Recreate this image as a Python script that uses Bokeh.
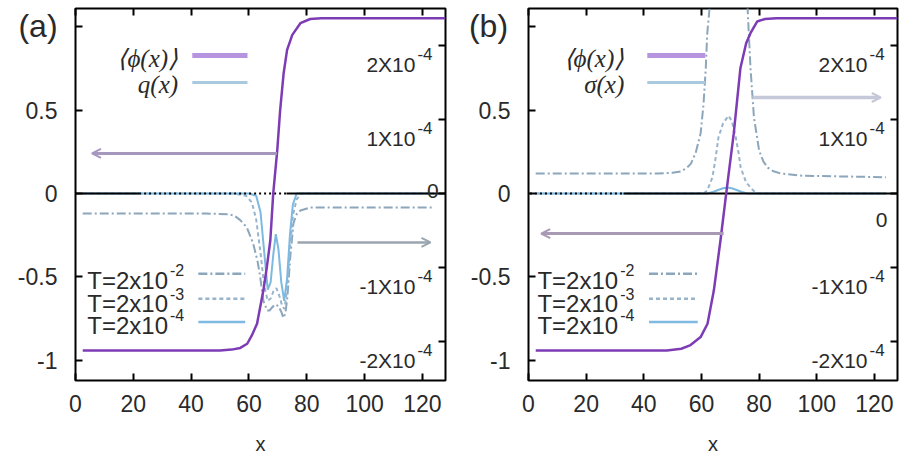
from bokeh.plotting import figure
from bokeh.layouts import row
from bokeh.models import Range1d, LinearAxis, FixedTicker, Arrow, OpenHead, ColumnDataSource, GridBox
from bokeh.embed import file_html
from bokeh.resources import INLINE
from bokeh.core.properties import value

# ---------------- data ----------------
x_ticks = [0, 20, 40, 60, 80, 100, 120]
y_ticks = [-1, -0.5, 0, 0.5, 1]
y_tick_text = {-1: "-1", -0.5: "-0.5", 0: "0", 0.5: "0.5", 1: ""}
q_ticks = [-2, -1, 1, 2]                  # right axis, units of 1e-4
q_tick_base = ["-2X10", "-1X10", "1X10", "2X10"]
q_tick_exp = ["-4", "-4", "-4", "-4"]
T_labels = ["T=2x10", "T=2x10", "T=2x10"]
T_exps = ["-2", "-3", "-4"]
panel_tags = ["(a)", "(b)"]
x_label = "x"

# panel (a): <phi(x)>
phi_a_x = [2.5, 50, 54, 57, 59.4, 61, 62.8, 65, 66.2, 67.4, 68.4, 69.8, 70.8, 72, 73.2, 75, 77.8, 81.2, 85, 128]
phi_a_y = [-0.94, -0.94, -0.935, -0.925, -0.9, -0.85, -0.78, -0.58, -0.44, -0.28, 0.0, 0.26, 0.5, 0.72, 0.86, 0.95, 1.02, 1.045, 1.05, 1.05]
# panel (a): q(x), units of 1e-4
qa_T2_x = [2.5, 45, 53, 55, 57, 59.3, 61.5, 63, 63.9, 65, 66.3, 67.2, 68, 69, 70.2, 71.2, 71.9, 72.6, 73.3, 74.3, 75.4, 76.5, 77.8, 81.2, 90, 124]
qa_T2_y = [-0.27, -0.27, -0.28, -0.3, -0.36, -0.46, -0.68, -0.92, -1.13, -1.45, -1.58, -1.58, -1.54, -1.5, -1.52, -1.6, -1.68, -1.62, -1.4, -0.86, -0.4, -0.28, -0.23, -0.19, -0.19, -0.19]
qa_T3_x = [2.5, 55, 59, 61, 62.5, 64, 65.3, 66.5, 67.5, 68.5, 69.5, 70.5, 71.5, 72.3, 73.2, 74.2, 75.2, 76.5, 78, 124]
qa_T3_y = [0, 0, -0.03, -0.12, -0.35, -0.8, -1.25, -1.45, -1.42, -1.32, -1.28, -1.38, -1.52, -1.56, -1.3, -0.75, -0.3, -0.08, 0, 0]
qa_T4_x = [2.5, 60, 62.5, 64, 65.3, 66.5, 67.5, 68.5, 69.3, 70.2, 71.2, 72.2, 73.2, 74.2, 75.2, 76.5, 124]
qa_T4_y = [0, 0, -0.03, -0.25, -0.8, -1.3, -1.2, -0.8, -0.55, -0.75, -1.2, -1.45, -1.15, -0.55, -0.15, 0, 0]

# panel (b): <phi(x)>
phi_b_x = [2.5, 48, 53, 56, 59.7, 62.1, 64.3, 66.6, 68.3, 69.3, 71.2, 73.5, 75.5, 77, 79.3, 82, 86, 128]
phi_b_y = [-0.94, -0.94, -0.93, -0.91, -0.86, -0.78, -0.58, -0.28, -0.04, 0.1, 0.36, 0.75, 0.9, 0.96, 1.03, 1.045, 1.05, 1.05]
# panel (b): sigma(x), units of 1e-4
sb_T2_x = [2.5, 45, 50, 53, 55, 56.3, 58, 59.7, 60.7, 61.5, 62, 62.8, 63.3, 66, 69.5, 73, 75.5, 76, 77, 78.2, 80, 81.5, 83, 85, 87.5, 95, 124]
sb_T2_y = [0.27, 0.27, 0.28, 0.3, 0.35, 0.4, 0.55, 0.81, 1.2, 1.7, 2.16, 2.5, 2.8, 3.5, 3.8, 3.5, 2.8, 2.5, 1.7, 1.03, 0.58, 0.43, 0.35, 0.3, 0.27, 0.24, 0.22]
sb_T3_x = [2.5, 58, 61, 62, 63.8, 64.8, 65.9, 67.5, 69.4, 70.5, 71.8, 72.9, 73.6, 75.5, 78, 80, 124]
sb_T3_y = [0, 0, 0.01, 0.04, 0.22, 0.45, 0.76, 0.95, 1.05, 0.98, 0.78, 0.54, 0.35, 0.15, 0.04, 0, 0]
sb_T4_x = [2.5, 62, 64, 66, 67.5, 69, 70.5, 72, 74, 76, 124]
sb_T4_y = [0, 0, 0.02, 0.05, 0.07, 0.08, 0.07, 0.05, 0.02, 0, 0]

# ---------------- style ----------------
X_RANGE = (0, 128)
Y_RANGE = (-1.12, 1.108)
Q_RANGE = (-2.527, 2.5)
TXT = "#2a2a2a"
SANS = "Liberation Sans"
PURPLE = "#7d3cb5"
C_T2, C_T3, C_T4 = "#8ca6bb", "#98b4cb", "#7db9e0"
D_T2, D_T3 = "9 3 2 3", "4 3"


def quiet_axis(**kw):
    return LinearAxis(major_tick_in=7, major_tick_out=0, major_tick_line_width=2,
                      minor_tick_line_color=None, axis_line_color=None,
                      major_label_text_color=None, major_label_text_font_size="1px",
                      major_label_standoff=0, **kw)


def make_panel(width, left_border, right_border, phi_x, phi_y, curves, second_label,
               arrows, zero_solid, zero_dotted, zero_lab, leg_text_x, leg_sample_x):
    p = figure(width=width, height=456, output_backend="svg", toolbar_location=None,
               x_range=Range1d(*X_RANGE), y_range=Range1d(*Y_RANGE),
               min_border_left=left_border, min_border_right=right_border,
               min_border_top=8, min_border_bottom=76,
               background_fill_color="white", border_fill_color="white",
               outline_line_color="black", outline_line_width=2)
    p.extra_y_ranges = {"q": Range1d(*Q_RANGE)}
    p.xgrid.visible = False
    p.ygrid.visible = False

    xa = p.xaxis[0]
    xa.ticker = FixedTicker(ticks=x_ticks)
    xa.major_label_text_font = SANS
    xa.major_label_text_font_size = "23px"
    xa.major_label_text_color = TXT
    xa.major_label_standoff = 14
    ya = p.yaxis[0]
    ya.ticker = FixedTicker(ticks=y_ticks)
    ya.major_label_overrides = y_tick_text
    ya.major_label_text_font = SANS
    ya.major_label_text_font_size = "23px"
    ya.major_label_text_color = TXT
    ya.major_label_standoff = 18
    for ax in (xa, ya):
        ax.axis_line_color = None
        ax.major_tick_in = 7
        ax.major_tick_out = 0
        ax.major_tick_line_width = 2
        ax.minor_tick_line_color = None
    p.add_layout(quiet_axis(ticker=FixedTicker(ticks=x_ticks)), "above")
    p.add_layout(quiet_axis(y_range_name="q", ticker=FixedTicker(ticks=q_ticks + [0])), "right")

    # T curves (right scale)
    styles = [(C_T2, D_T2), (C_T3, D_T3), (C_T4, "solid")]
    for (cx, cy), (col, dash) in zip(curves, styles):
        p.line(cx, cy, y_range_name="q", line_color=col, line_width=2, line_dash=dash)

    # zero axis
    for seg in zero_solid:
        p.line(list(seg), [0, 0], line_color="black", line_width=2)
    for seg in zero_dotted:
        p.line(list(seg), [0, 0], line_color="black", line_width=2, line_dash="2 3")

    # <phi(x)>
    p.line(phi_x, phi_y, line_color=PURPLE, line_width=2.5)

    # right tick labels drawn inside the frame
    src = ColumnDataSource(dict(x=[117.6] * len(q_ticks), y=[v - 0.25 for v in q_ticks], t=q_tick_base))
    p.text("x", "y", "t", source=src, y_range_name="q", text_align="right", text_baseline="alphabetic",
           text_font=value(SANS), text_font_size="21px", text_color=TXT)
    src2 = ColumnDataSource(dict(x=[118.3] * len(q_ticks), y=[v - 0.11 for v in q_ticks], t=q_tick_exp))
    p.text("x", "y", "t", source=src2, y_range_name="q", text_align="left", text_baseline="alphabetic",
           text_font=value(SANS), text_font_size="17px", text_color=TXT)
    p.text([zero_lab[0]], [zero_lab[1]], ["0"], y_range_name="q", text_align="right",
           text_baseline="alphabetic", text_font=value(SANS), text_font_size="21px", text_color=TXT)

    # top legend
    p.text([leg_text_x[0]] * 2, [0.81, 0.655], ["\u27e8\u03d5(x)\u27e9", second_label], text_align="right",
           text_baseline="middle", text_font=value("Liberation Serif"), text_font_style="italic",
           text_font_size="25px", text_color=TXT)
    p.line(list(leg_sample_x[0]), [0.826, 0.826], line_color="#b794e0", line_width=5)
    p.line(list(leg_sample_x[0]), [0.665, 0.665], line_color="#a9c9df", line_width=3)

    # T legend
    rows_base = [-0.52, -0.66, -0.79]
    p.text([leg_text_x[1]] * 3, rows_base, T_labels, text_align="right", text_baseline="alphabetic",
           text_font=value(SANS), text_font_size="24px", text_color=TXT)
    p.text([leg_text_x[1] + 0.7] * 3, [r + 0.06 for r in rows_base], T_exps, text_align="left",
           text_baseline="alphabetic", text_font=value(SANS), text_font_size="16px", text_color=TXT)
    for sy, (col, dash) in zip([-0.48, -0.63, -0.77], styles):
        p.line(list(leg_sample_x[1]), [sy, sy], line_color=col, line_width=2.5, line_dash=dash)

    # arrows
    for (x0, x1, y, col, w) in arrows:
        p.add_layout(Arrow(x_start=x0, y_start=y, x_end=x1, y_end=y, line_color=col, line_width=w,
                           end=OpenHead(size=9, line_color=col, line_width=2)))
    return p


pa = make_panel(450, 75, 5, phi_a_x, phi_a_y,
                [(qa_T2_x, qa_T2_y), (qa_T3_x, qa_T3_y), (qa_T4_x, qa_T4_y)], "q(x)",
                [(69.7, 5.7, 0.24, "#a697bf", 3), (76.8, 122.8, -0.293, "#9aa5b0", 2.5)],
                [(0, 22), (73, 128)], [(22, 73)], (125.6, 0.04),
                (35.5, 32.0), ((40.4, 59.5), (42.5, 58.7)))
pb = make_panel(449, 78, 2, phi_b_x, phi_b_y,
                [(sb_T2_x, sb_T2_y), (sb_T3_x, sb_T3_y), (sb_T4_x, sb_T4_y)], "\u03c3(x)",
                [(67.7, 4.4, -0.24, "#a899b5", 3), (77.7, 122.2, 0.575, "#c5c8d8", 3.5)],
                [(33, 128)], [(0.5, 33)], (124.5, -0.36),
                (33.2, 31.1), ((41.2, 61.3), (41.8, 58.7)))

# transparent overlay (canvas pixel coordinates) for panel tags and x-axis titles
ov = figure(width=899, height=456, output_backend="svg", toolbar_location=None,
            x_range=Range1d(0, 899), y_range=Range1d(456, 0),
            x_axis_location=None, y_axis_location=None,
            min_border=0, min_border_left=0, min_border_right=0, min_border_top=0, min_border_bottom=0,
            outline_line_color=None, background_fill_alpha=0, border_fill_alpha=0)
ov.xgrid.visible = False
ov.ygrid.visible = False
ov.text([37.5, 488], [25, 25], panel_tags, text_align="center", text_baseline="middle",
        text_font=value(SANS), text_font_size="32px", text_color=TXT)
ov.text([260, 712.5], [443, 443], [x_label, x_label], text_align="center", text_baseline="middle",
        text_font=value(SANS), text_font_size="20px", text_color=TXT)

layout = GridBox(children=[(row(pa, pb), 0, 0), (ov, 0, 0)])
open("out.html", "w").write(file_html(layout, INLINE))
